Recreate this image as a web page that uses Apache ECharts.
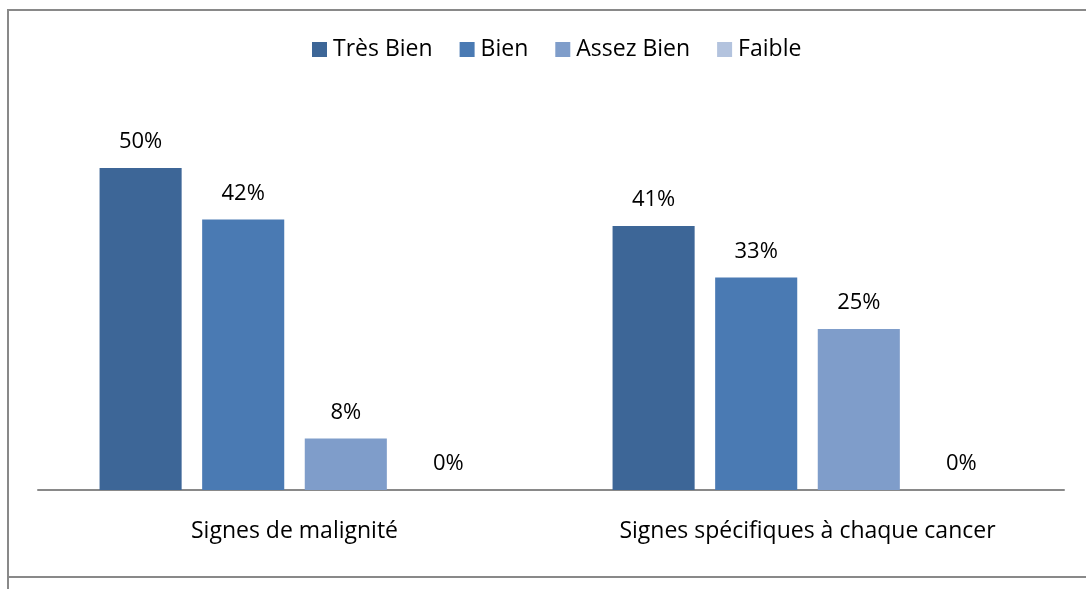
<!DOCTYPE html>
<html>
<head>
<meta charset="utf-8">
<script src="https://cdn.jsdelivr.net/npm/echarts@6/dist/echarts.min.js"></script>
<style>html,body{margin:0;padding:0;background:#fff;}#c{width:1086px;height:589px;}</style>
</head>
<body>
<div id="c"></div>
<script>
const categories = ['Signes de malignité', 'Signes spécifiques à chaque cancer'];
const seriesNames = ['Très Bien', 'Bien', 'Assez Bien', 'Faible'];
const tresBien = [50, 41];
const bien = [42, 33];
const assezBien = [8, 25];
const faible = [0, 0];
const colors = ['#3D6697', '#4A7AB3', '#7F9DCA', '#B3C3DE'];
const FONT = 'Open Sans';

const chart = echarts.init(document.getElementById('c'), null, {renderer: 'canvas'});
const values = [tresBien, bien, assezBien, faible];
chart.setOption({
  animation: false,
  textStyle: {fontFamily: FONT},
  legend: {
    top: 33, left: 307,
    itemWidth: 15, itemHeight: 15, itemGap: 27,
    icon: 'rect',
    textStyle: {fontSize: 23, color: '#000', fontFamily: FONT, padding: [0, 0, 0, 1]},
    data: seriesNames
  },
  grid: {left: 38, right: 22, top: 103.6, bottom: 99, containLabel: false},
  xAxis: {
    type: 'category', data: categories,
    axisLine: {lineStyle: {color: '#898989', width: 2}},
    axisTick: {show: false},
    axisLabel: {fontSize: 23, color: '#000', margin: 30, fontFamily: FONT}
  },
  yAxis: {type: 'value', min: 0, max: 60, show: false, splitLine: {show: false}},
  graphic: [
    {type: 'line', shape: {x1: 8, y1: 10, x2: 8, y2: 589}, style: {stroke: '#898989', lineWidth: 2}},
    {type: 'line', shape: {x1: 7, y1: 10, x2: 1090, y2: 10}, style: {stroke: '#898989', lineWidth: 2}},
    {type: 'line', shape: {x1: 7, y1: 577, x2: 1090, y2: 577}, style: {stroke: '#898989', lineWidth: 2}}
  ],
  series: seriesNames.map((n, i) => ({
    name: n, type: 'bar', data: values[i],
    barGap: '25%', barCategoryGap: '24%',
    itemStyle: {color: colors[i]},
    label: {show: true, position: 'top', distance: 15, fontSize: 22, color: '#000', fontFamily: FONT,
      formatter: p => p.value + '%'}
  }))
});
</script>
</body>
</html>
